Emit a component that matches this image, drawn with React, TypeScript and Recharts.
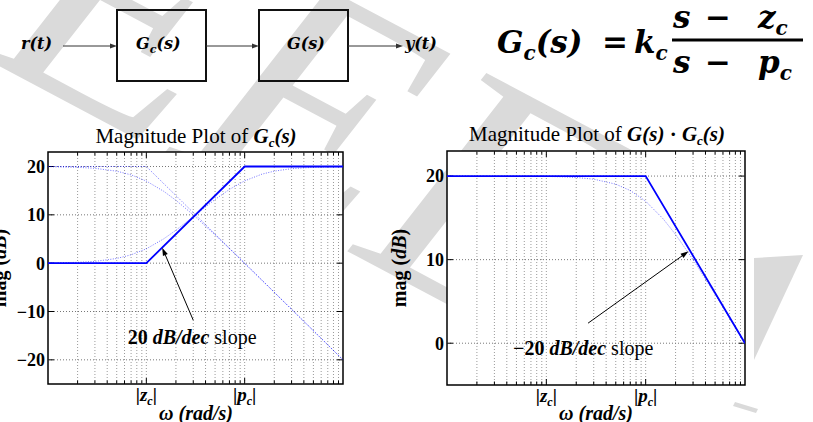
import React from 'react';
import { LineChart, Line, XAxis, YAxis, CartesianGrid, ReferenceLine, ReferenceDot, ReferenceArea } from 'recharts';

// frequencies (rad/s, |z_c| = 1, |p_c| = 10) where the smooth curves were read
const freq = [0.1, 0.2, 0.3, 0.5, 0.7, 1, 1.5, 2, 3, 5, 7, 10, 15, 20, 30, 50, 70, 100];
const leadActualDb = [0.04, 0.17, 0.37, 0.97, 1.73, 2.97, 5.02, 6.82, 9.63, 13.18, 15.26, 17.03, 18.42, 19.04, 19.55, 19.83, 19.91, 19.96];
const plantActualDb = [19.96, 19.83, 19.63, 19.03, 18.27, 16.99, 14.88, 13.01, 10.0, 5.85, 3.01, -0.04, -3.54, -6.03, -9.55, -13.98, -16.9, -20.0];
const loopActualDb = [20.0, 20.0, 19.99, 19.99, 19.98, 19.96, 19.9, 19.83, 19.63, 19.03, 18.27, 16.99, 14.88, 13.01, 10.0, 5.85, 3.01, -0.04];

// straight-line asymptotes
const cornerFreq = [0.1, 1, 10, 100];
const leadAsymDb = [0, 0, 20, 20];
const plantAsymDb = [20, 20, 0, -20];
const loopAsymFreq = [0.1, 10, 100];
const loopAsymDb = [20, 20, 0];

const gridFreq = [0.2, 0.3, 0.4, 0.5, 0.6, 0.7, 0.8, 0.9, 1, 2, 3, 4, 5, 6, 7, 8, 9, 10, 20, 30, 40, 50, 60, 70, 80, 90];
const xTicks = [1, 10];
const xTickNames = ['z', 'p'];
const leftYTicks = [-20, -10, 0, 10, 20];
const rightYTicks = [0, 10, 20];

const pts = (xs: number[], ys: number[]) => xs.map((w, i) => ({ w, db: ys[i] }));

const SERIF = '"Liberation Serif", "Times New Roman", serif';
const MATH = '"DejaVu Serif", serif';
const BLUE = '#0000ff';

// letter with subscript, then the rest of the text back on the baseline
const sub = (main: string, s: string, rest: string, size: number, dy: number) => (
  <>
    <tspan>{main}</tspan>
    <tspan dy={dy} fontSize={size}>{s}</tspan>
    {rest ? <tspan dy={-dy}>{rest}</tspan> : null}
  </>
);

const FreqTick = ({ x, y, payload }: any) => {
  const name = xTickNames[xTicks.indexOf(payload.value)];
  return (
    <text x={x} y={y + 15} textAnchor="middle" fontFamily={SERIF} fontSize={19} fontWeight="bold" fill="#000">
      <tspan>|</tspan>
      <tspan fontStyle="italic">{name}</tspan>
      <tspan fontSize={12} dy={4} fontStyle="italic">c</tspan>
      <tspan dy={-4}>|</tspan>
    </text>
  );
};

const dbFormat = (v: number) => (v < 0 ? `\u2212${Math.abs(v)}` : `${v}`);

// dotted grid line with short inward ticks at both ends
const vGrid = (major: boolean) => (props: any) => {
  const { x1, y1, x2, y2 } = props;
  const t = major ? 6 : 3.5;
  const top = Math.min(y1, y2);
  const bottom = Math.max(y1, y2);
  return (
    <g>
      <line x1={x1} y1={top} x2={x2} y2={bottom} stroke="#9a9a9a" strokeWidth={1} strokeDasharray="1 2" />
      <line x1={x1} y1={top} x2={x1} y2={top + t} stroke="#000" strokeWidth={1} />
      <line x1={x1} y1={bottom} x2={x1} y2={bottom - t} stroke="#000" strokeWidth={1} />
    </g>
  );
};

const hGrid = (props: any) => {
  const { x1, y1, x2, y2 } = props;
  const l = Math.min(x1, x2);
  const r = Math.max(x1, x2);
  return (
    <g>
      <line x1={l} y1={y1} x2={r} y2={y2} stroke="#777" strokeWidth={1} strokeDasharray="1 2" />
      <line x1={l} y1={y1} x2={l + 6} y2={y1} stroke="#000" strokeWidth={1} />
      <line x1={r} y1={y1} x2={r - 6} y2={y1} stroke="#000" strokeWidth={1} />
    </g>
  );
};

const ArrowShape = (props: any) => {
  const { x1, y1, x2, y2 } = props;
  const a = Math.atan2(y2 - y1, x2 - x1);
  const len = 8;
  const half = 2.6;
  const bx = x2 - len * Math.cos(a);
  const by = y2 - len * Math.sin(a);
  const p = `${x2},${y2} ${bx + half * Math.sin(a)},${by - half * Math.cos(a)} ${bx - half * Math.sin(a)},${by + half * Math.cos(a)}`;
  return (
    <g>
      <line x1={x1} y1={y1} x2={bx} y2={by} stroke="#000" strokeWidth={1} />
      <polygon points={p} fill="#000" />
    </g>
  );
};

const slopeNote = (text: string) => (props: any) => (
  <text x={props.cx} y={props.cy} textAnchor="middle" dominantBaseline="central" fontFamily={SERIF} fontSize={20} fill="#000">
    <tspan fontWeight="bold">{text} </tspan>
    <tspan fontWeight="bold" fontStyle="italic">dB/dec</tspan>
    <tspan> slope</tspan>
  </text>
);

const tickStyle = { fontFamily: SERIF, fontSize: 18, fontWeight: 'bold', fill: '#000' };

const Arrow = ({ x1, x2, y }: any) => (
  <g>
    <line x1={x1} y1={y} x2={x2 - 6} y2={y} stroke="#333" strokeWidth={1} />
    <polygon points={`${x2},${y} ${x2 - 7},${y - 2.5} ${x2 - 7},${y + 2.5}`} fill="#333" />
  </g>
);

const dotted = { stroke: BLUE, strokeOpacity: 0.55, strokeWidth: 1, strokeDasharray: '1 1.5' };

export default function App() {
  return (
    <div style={{ position: 'absolute', left: 0, top: 0, width: 813, height: 422, background: '#fff', overflow: 'hidden' }}>
      {/* watermark */}
      <svg width={813} height={422} style={{ position: 'absolute', left: 0, top: 0 }}>
        <text transform="translate(-16 58) rotate(28)" fontFamily={SERIF} fontStyle="italic" fontSize={340} fill="#dadada">EEE</text>
        <polygon points="754,258 803,255 754,360" fill="#dadada" />
        <polygon points="735,402 758,409 756,413 733,406" fill="#dadada" />
      </svg>

      <div style={{ position: 'absolute', left: 0, top: 120 }}>
        <LineChart width={360} height={302} margin={{ top: 32, right: 17, bottom: 0, left: 8 }}>
          <CartesianGrid horizontal={false} vertical={false} fill="#fff" />
          {gridFreq.map((f) => (
            <ReferenceLine key={f} x={f} shape={vGrid(xTicks.includes(f))} />
          ))}
          {leftYTicks.map((t) => (
            <ReferenceLine key={t} y={t} shape={hGrid} />
          ))}
          <XAxis type="number" dataKey="w" scale="log" domain={[0.1, 100]} allowDataOverflow ticks={xTicks}
            tick={<FreqTick />} tickLine={false} tickSize={0} axisLine={false} height={38} />
          <YAxis type="number" domain={[-25, 23]} allowDataOverflow ticks={leftYTicks} tickFormatter={dbFormat}
            tick={tickStyle} tickLine={false} tickSize={0} tickMargin={3} axisLine={false} width={40} />
          <Line data={pts(freq, plantActualDb)} dataKey="db" {...dotted} dot={false} isAnimationActive={false} />
          <Line data={pts(cornerFreq, plantAsymDb)} dataKey="db" {...dotted} dot={false} isAnimationActive={false} />
          <Line data={pts(freq, leadActualDb)} dataKey="db" {...dotted} dot={false} isAnimationActive={false} />
          <Line data={pts(cornerFreq, leadAsymDb)} dataKey="db" stroke={BLUE} strokeWidth={1.8} dot={false} isAnimationActive={false} />
          <ReferenceArea x1={0.1} x2={100} y1={-25} y2={23} fill="none" stroke="#000" strokeWidth={1.5} ifOverflow="visible" />
          <ReferenceLine segment={[{ x: 3, y: -11.8 }, { x: 1.45, y: 3.2 }]} shape={ArrowShape} />
          <ReferenceDot x={2.92} y={-15.3} r={0} shape={slopeNote('20')} />
        </LineChart>
      </div>

      <div style={{ position: 'absolute', left: 400, top: 120 }}>
        <LineChart width={360} height={302} margin={{ top: 31, right: 15, bottom: 0, left: 7 }}>
          <CartesianGrid horizontal={false} vertical={false} fill="#fff" />
          {gridFreq.map((f) => (
            <ReferenceLine key={f} x={f} shape={vGrid(xTicks.includes(f))} />
          ))}
          {rightYTicks.map((t) => (
            <ReferenceLine key={t} y={t} shape={hGrid} />
          ))}
          <XAxis type="number" dataKey="w" scale="log" domain={[0.1, 100]} allowDataOverflow ticks={xTicks}
            tick={<FreqTick />} tickLine={false} tickSize={0} axisLine={false} height={37} />
          <YAxis type="number" domain={[-5, 23]} allowDataOverflow ticks={rightYTicks} tickFormatter={dbFormat}
            tick={tickStyle} tickLine={false} tickSize={0} tickMargin={3} axisLine={false} width={40} />
          <Line data={pts(freq, loopActualDb)} dataKey="db" {...dotted} dot={false} isAnimationActive={false} />
          <Line data={pts(loopAsymFreq, loopAsymDb)} dataKey="db" stroke={BLUE} strokeWidth={1.8} dot={false} isAnimationActive={false} />
          <ReferenceArea x1={0.1} x2={100} y1={-5} y2={23} fill="none" stroke="#000" strokeWidth={1.5} ifOverflow="visible" />
          <ReferenceLine segment={[{ x: 2.63, y: 2.4 }, { x: 27, y: 11 }]} shape={ArrowShape} />
          <ReferenceDot x={2.35} y={-0.56} r={0} shape={slopeNote('\u221220')} />
        </LineChart>
      </div>

      {/* block diagram, formula, titles, axis labels */}
      <svg width={813} height={422} style={{ position: 'absolute', left: 0, top: 0, pointerEvents: 'none' }}
        fontFamily={SERIF} fill="#000">
        <rect x={117} y={10} width={89} height={71} fill="none" stroke="#111" strokeWidth={2} />
        <rect x={259} y={10} width={89} height={71} fill="none" stroke="#111" strokeWidth={2} />
        <Arrow x1={63} x2={117} y={46} />
        <Arrow x1={206} x2={259} y={46} />
        <Arrow x1={348} x2={403} y={46} />
        <g fontFamily={MATH} fontSize={16} fontWeight="bold" fontStyle="italic">
          <text x={21} y={49}>r(t)</text>
          <text x={136} y={49}>{sub('G', 'c', '(s)', 11, 4)}</text>
          <text x={287} y={49}>G(s)</text>
          <text x={405} y={49}>y(t)</text>
        </g>

        <g fontFamily={MATH} fontSize={31} fontWeight="bold" fontStyle="italic">
          <text x={497} y={53}>{sub('G', 'c', '(s)', 20, 7)}</text>
          <text x={602} y={53} fontStyle="normal">=</text>
          <text x={634} y={53}>{sub('k', 'c', '', 20, 7)}</text>
          <line x1={672} y1={40} x2={803} y2={40} stroke="#000" strokeWidth={3} />
          <text x={673} y={28}>s</text>
          <text x={705} y={28} fontStyle="normal">{'\u2212'}</text>
          <text x={758} y={28}>{sub('z', 'c', '', 20, 7)}</text>
          <text x={673} y={73}>s</text>
          <text x={705} y={73} fontStyle="normal">{'\u2212'}</text>
          <text x={758} y={73}>{sub('p', 'c', '', 20, 7)}</text>
        </g>

        <text x={196} y={143} textAnchor="middle" fontSize={21}>
          <tspan>Magnitude Plot of </tspan>
          <tspan fontWeight="bold" fontStyle="italic">{sub('G', 'c', '(s)', 13, 4)}</tspan>
        </text>
        <text x={597} y={141} textAnchor="middle" fontSize={21}>
          <tspan>Magnitude Plot of </tspan>
          <tspan fontWeight="bold" fontStyle="italic">G(s)</tspan>
          <tspan fontWeight="bold">{' \u00b7 '}</tspan>
          <tspan fontWeight="bold" fontStyle="italic">{sub('G', 'c', '(s)', 13, 4)}</tspan>
        </text>

        <text x={196} y={420} textAnchor="middle" fontSize={20} fontWeight="bold" fontStyle="italic">
          {'\u03c9 (rad/s)'}
        </text>
        <text x={596} y={420} textAnchor="middle" fontSize={20} fontWeight="bold" fontStyle="italic">
          {'\u03c9 (rad/s)'}
        </text>

        <text transform="translate(6 268) rotate(-90)" textAnchor="middle" fontSize={20} fontWeight="bold">
          <tspan>mag (</tspan>
          <tspan fontStyle="italic">dB</tspan>
          <tspan>)</tspan>
        </text>
        <text transform="translate(406 268) rotate(-90)" textAnchor="middle" fontSize={20} fontWeight="bold">
          <tspan>mag (</tspan>
          <tspan fontStyle="italic">dB</tspan>
          <tspan>)</tspan>
        </text>
      </svg>
    </div>
  );
}
